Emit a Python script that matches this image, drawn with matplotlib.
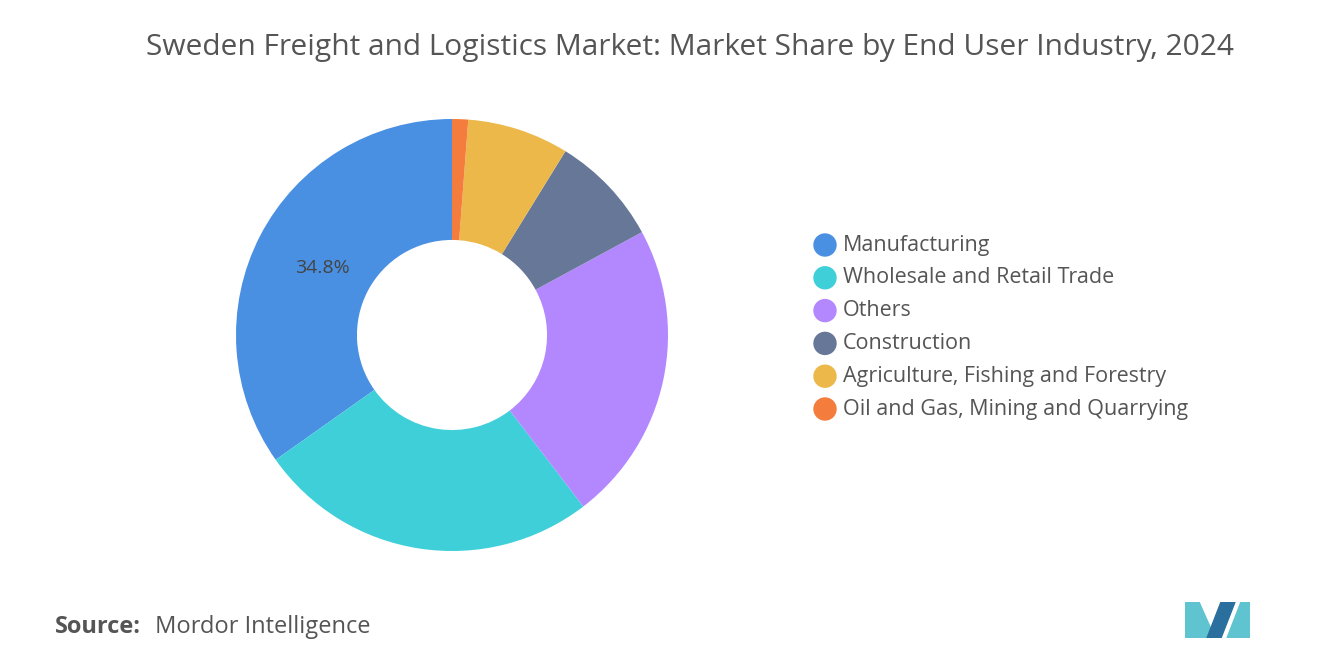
import matplotlib.pyplot as plt
from matplotlib.patches import Polygon, Circle

labels = ["Manufacturing", "Wholesale and Retail Trade", "Others", "Construction",
          "Agriculture, Fishing and Forestry", "Oil and Gas, Mining and Quarrying"]
shares = [34.8, 25.6, 22.5, 8.3, 7.6, 1.2]
colors = ["#4a90e2", "#3ecfd9", "#b388ff", "#667797", "#ecb84a", "#f47c3c"]

W, H = 1320, 665
fig = plt.figure(figsize=(13.2, 6.65), dpi=100)
plt.rcParams["font.family"] = "Open Sans"

cx, cy, r = 452, 335, 216
ax = fig.add_axes([(cx - r) / W, (H - cy - r) / H, 2 * r / W, 2 * r / H])
wedges, _ = ax.pie(shares, colors=colors, startangle=90, counterclock=True,
                   wedgeprops=dict(width=0.56, linewidth=0))
ax.set_xlim(-1, 1); ax.set_ylim(-1, 1)
ax.set_aspect("equal")
ax.text(-0.6, 0.31, f"{shares[0]}%", fontsize=14, color="#444444", ha="center", va="center")

for i, (lab, col) in enumerate(zip(labels, colors)):
    y = 1 - (245 + i * 32.8) / H
    fig.patches.append(Circle((825 / W * 13.2 * 100, y * 665), 11, color=col,
                              transform=None))
    fig.text(843 / W, y, lab, color="#555555", fontsize=15.5, ha="left", va="center")

fig.text(690 / W, 1 - 48 / H, "Sweden Freight and Logistics Market: Market Share by End User Industry, 2024",
         fontsize=21.5, color="#555555", ha="center", va="center")
fig.text(55 / W, 1 - 627 / H, "Source:", fontsize=17, color="#555555", ha="left",
         va="center", fontweight="bold")
fig.text(155 / W, 1 - 627 / H, "Mordor Intelligence", fontsize=17, color="#555555",
         ha="left", va="center")

# simple logo
lg = fig.add_axes([1185 / W, 1 - 638 / H, 65 / W, 36 / H])
lg.axis("off")
lg.set_xlim(0, 65); lg.set_ylim(0, 36)
lg.add_patch(Polygon([[0, 0], [0, 36], [14, 36], [30, 0]], color="#5fc4cf"))
lg.add_patch(Polygon([[22, 0], [36, 36], [50, 36], [36, 0]], color="#2a6f9e"))
lg.add_patch(Polygon([[42, 0], [56, 36], [65, 36], [65, 0]], color="#5fc4cf"))

fig.savefig("out.png", dpi=100)
